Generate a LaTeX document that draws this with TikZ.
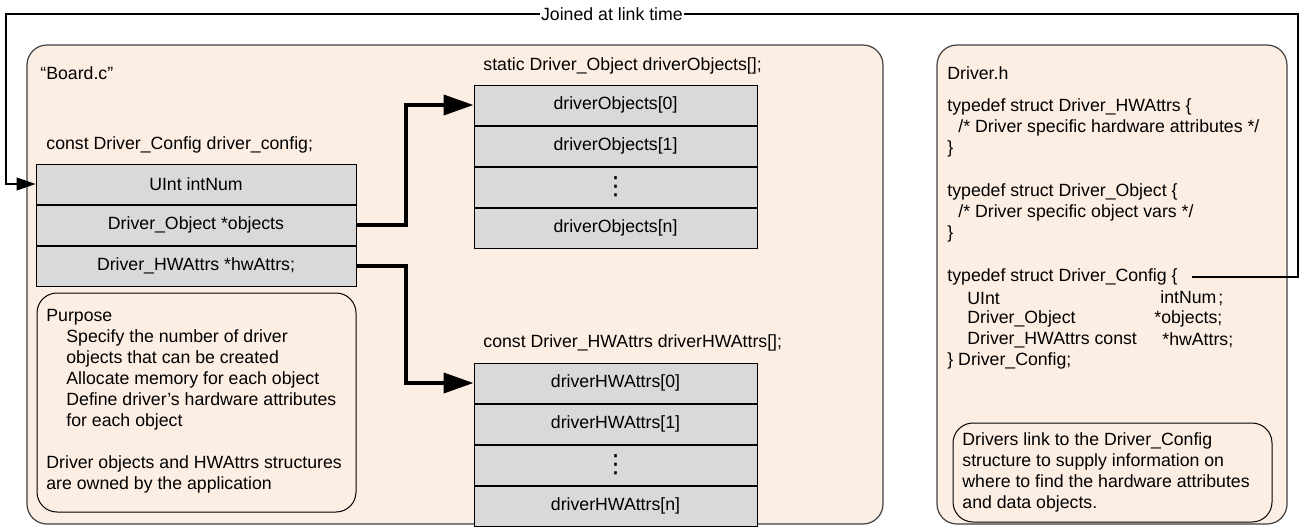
\documentclass[tikz,border=0pt]{standalone}
\usepackage{fontspec}
\setmainfont{Liberation Sans}
\newfontfamily\dotsfont{DejaVu Sans}
\usepackage{tikz}
\usetikzlibrary{arrows.meta,positioning}
\definecolor{peach}{HTML}{FDEEE4}
\definecolor{cellgray}{HTML}{D9D9D9}
\definecolor{edge}{HTML}{404040}

\begin{document}
\begin{tikzpicture}[
  x=0.5pt, y=-0.5pt,
  font=\fontsize{8.85}{10.5}\selectfont,
  panel/.style={draw=edge, fill=peach, rounded corners=10pt, line width=0.6pt},
  note/.style={draw=black, rounded corners=10pt, line width=0.5pt},
  cell/.style={draw=black, fill=cellgray, line width=0.5pt, minimum height=20pt, inner sep=0pt},
  cfgcell/.style={cell, minimum width=160pt},
  arrcell/.style={cell, minimum width=141.5pt},
  dotcell/.style={arrcell, font=\dotsfont\fontsize{12.5}{12.5}\selectfont},
  txt/.style={anchor=west, inner sep=0pt},
  para/.style={anchor=north west, inner sep=0pt, align=left},
  ptr/.style={-{Triangle[length=15pt, width=10pt]}, line width=2pt},
  link/.style={-{Triangle[length=9.5pt, width=6.5pt]}, line width=0.6pt},
]
\useasboundingbox (0,0) rectangle (1299,527);

% the two files
\draw[panel] (27,45) rectangle (883,524);
\draw[panel] (937,45) rectangle (1287,524);

% Board.c
\node[txt] (boardc) at (40,73) {“Board.c”};
\node[txt] (cfgname) at (46,145) {const Driver\_Config driver\_config;};
\node[cfgcell] (intnum) at (196,184) {UInt intNum};
\node[cfgcell, below=0pt of intnum] (objptr) {Driver\_Object *objects};
\node[cfgcell, below=0pt of objptr] (hwptr) {Driver\_HWAttrs *hwAttrs;};

\draw[note] (37,293) rectangle (356,512);
\node[para] (purpose) at (46,309) {Purpose\\
  \hspace*{10pt}Specify the number of driver\\
  \hspace*{10pt}objects that can be created\\
  \hspace*{10pt}Allocate memory for each object\\
  \hspace*{10pt}Define driver’s hardware attributes\\
  \hspace*{10pt}for each object\\[10.5pt]
  Driver objects and HWAttrs structures\\
  are owned by the application};

\node[txt] (objname) at (483,66) {static Driver\_Object driverObjects[];};
\node[arrcell] (obj0) at (615.5,105) {driverObjects[0]};
\node[arrcell, below=0pt of obj0] (obj1) {driverObjects[1]};
\node[dotcell, below=0pt of obj1] (objdots) {⋮};
\node[arrcell, below=0pt of objdots] (objn) {driverObjects[n]};

\node[txt] (hwname) at (483,343) {const Driver\_HWAttrs driverHWAttrs[];};
\node[arrcell] (hw0) at (615.5,383) {driverHWAttrs[0]};
\node[arrcell, below=0pt of hw0] (hw1) {driverHWAttrs[1]};
\node[dotcell, below=0pt of hw1] (hwdots) {⋮};
\node[arrcell, below=0pt of hwdots] (hwn) {driverHWAttrs[n]};

\draw[ptr] (objptr.east) -- ++(49,0) |- (obj0.west);
\draw[ptr] (hwptr.east) -- ++(49,0) |- (hw0.west);

% Driver.h
\node[txt] (drvh) at (947,73) {Driver.h};
\node[txt] (hwdef) at (947,107) {typedef struct Driver\_HWAttrs \{};
\node[txt] (hwcmt) at (958,128) {/* Driver specific hardware attributes */};
\node[txt] (hwend) at (947,149) {\}};
\node[txt] (objdef) at (947,192) {typedef struct Driver\_Object \{};
\node[txt] (objcmt) at (958,213) {/* Driver specific object vars */};
\node[txt] (objend) at (947,234) {\}};
\node[txt] (cfgdef) at (947,277) {typedef struct Driver\_Config \{};
\node[txt] (m1type) at (967,298) {UInt};
\node[txt] (m1name) at (1160,298) {intNum\hspace{1pt};};
\node[txt] (m2type) at (967,319) {Driver\_Object};
\node[txt] (m2name) at (1154,319) {*objects;};
\node[txt] (m3type) at (967,340) {Driver\_HWAttrs const};
\node[txt] (m3name) at (1162,340) {*hwAttrs;};
\node[txt] (cfgend) at (947,361) {\} Driver\_Config;};

\draw[note] (953,423) rectangle (1272,522);
\node[para] (linknote) at (962,432) {Drivers link to the Driver\_Config\\
  structure to supply information on\\
  where to find the hardware attributes\\
  and data objects.};

% link-time connection
\coordinate (rtop) at (1298,14);
\coordinate (ltop) at (6,14);
\draw[link] ([xshift=7pt]cfgdef.east) -- (cfgdef.east -| rtop) -- (rtop)
  -- node[pos=0.531, fill=white, inner sep=0.5pt] (joined) {Joined at link time} (ltop)
  |- (intnum.west);
\end{tikzpicture}
\end{document}
